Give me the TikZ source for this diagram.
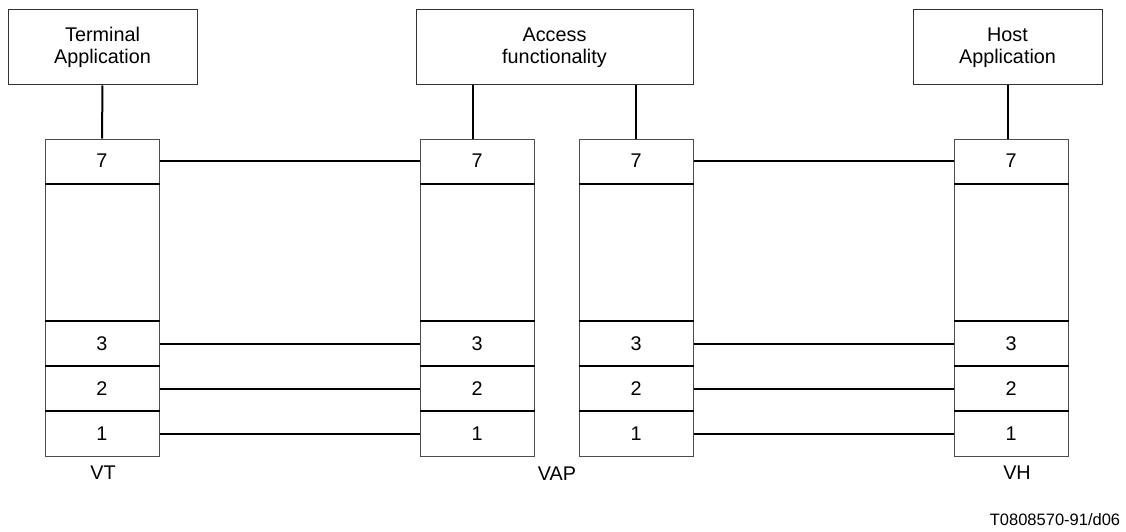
\documentclass[tikz,border=0pt]{standalone}
\usepackage{fontspec}
\setmainfont{Liberation Sans}
\begin{document}
\begin{tikzpicture}[x=1pt,y=-1pt,
  box/.style={draw=black!80,line width=1pt,inner sep=0pt,align=center,font=\fontsize{19.8}{22}\selectfont},
  cell/.style={draw=black!70,line width=1pt,inner sep=0pt,minimum width=114pt,font=\fontsize{19.8}{22}\selectfont},
  sep/.style={line width=2pt},
  link/.style={line width=2pt},
  lab/.style={inner sep=0pt,font=\fontsize{19.8}{22}\selectfont},
  small/.style={inner sep=0pt,font=\fontsize{16.5}{18}\selectfont}]
\useasboundingbox (0,0) rectangle (1126,532);
% top boxes
\node[box,minimum width=189pt,minimum height=75pt] (term) at (102.5,47.5) {Terminal\\Application};
\node[box,minimum width=277pt,minimum height=75pt] (acc) at (554.5,47.5) {Access\\functionality};
\node[box,minimum width=189pt,minimum height=75pt] (host) at (1007.5,47.5) {Host\\Application};
% stacks
\foreach \s/\x in {vt/102,va/477,vb/636,vh/1011}{
  \node[cell,minimum height=44pt] (\s7) at (\x,161) {7};
  \node[cell,minimum height=138pt] (\s e) at (\x,252) {};
  \node[cell,minimum height=45pt] (\s3) at (\x,343.5) {3};
  \node[cell,minimum height=45pt] (\s2) at (\x,388.5) {2};
  \node[cell,minimum height=45pt] (\s1) at (\x,433.5) {1};
  \draw[sep] (\s7.south west) -- (\s7.south east);
  \draw[sep] (\s3.north west) -- (\s3.north east);
  \draw[sep] (\s2.north west) -- (\s2.north east);
  \draw[sep] (\s1.north west) -- (\s1.north east);
}
% vertical links
\draw[link] (term.south) -- (vt7.north);
\draw[link] (vt7.north -| 473,0) coordinate (a1) -- (a1 |- acc.south);
\draw[link] (vb7.north) -- (vb7.north |- acc.south);
\draw[link] (host.south) -- (host.south |- vh7.north);
% horizontal links
\foreach \n in {7,3,2,1}{
  \draw[link] (vt\n.east) -- (va\n.west);
  \draw[link] (vb\n.east) -- (vh\n.west);
}
% labels
\node[lab] (lvt) at (103,473) {VT};
\node[lab] (lvap) at (557,474) {VAP};
\node[lab] (lvh) at (1017,473) {VH};
\node[small] (code) at (1055,520) {T0808570-91/d06};
\end{tikzpicture}
\end{document}
